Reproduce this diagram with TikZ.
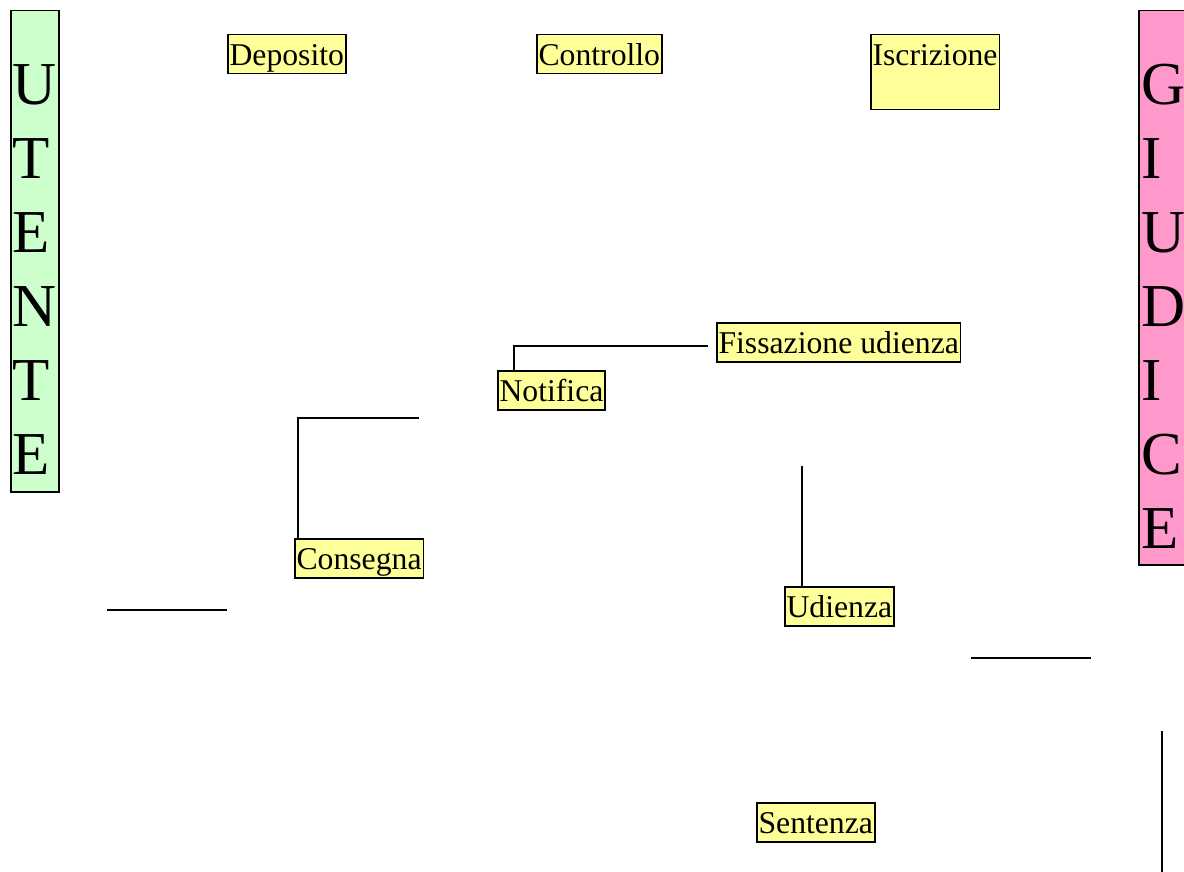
\documentclass[tikz,border=0pt]{standalone}
\usepackage{fontspec}
\setmainfont{Liberation Serif}
\definecolor{lanegreen}{HTML}{CCFFCC}
\definecolor{lanepink}{HTML}{FF99CC}
\definecolor{stepyellow}{HTML}{FFFF99}
\tikzset{
  stepbox/.style={draw=black, line width=1.5pt, fill=stepyellow, anchor=north west,
    inner xsep=1.8pt, inner ysep=0pt, text height=31pt, text depth=8pt,
    font=\fontsize{31.7}{38}\selectfont},
  lanebox/.style={draw=black, line width=1.5pt, anchor=north west, inner sep=0pt,
    minimum width=48pt},
  lanetext/.style={anchor=north west, inner sep=0pt, align=left,
    font=\fontsize{61}{74}\selectfont},
  link/.style={draw=black, line width=1.6pt}
}
\begin{document}
\begin{tikzpicture}[x=1pt, y=-1pt]
\useasboundingbox (0,0) rectangle (1184,872);

% swim lanes
\node[lanebox, fill=lanegreen, minimum height=481pt] (utente) at (10,10) {};
\node[lanetext] (utentelbl) at (12,64) {U\\T\\E\\N\\T\\E};
\node[lanebox, fill=lanepink, minimum height=554pt] (giudice) at (1138,10) {};
\node[lanetext] (giudicelbl) at (1141,64) {G\\I\\U\\D\\I\\C\\E};

% process steps
\node[stepbox] (deposito) at (227,34) {Deposito};
\node[stepbox] (controllo) at (536,34) {Controllo};
\node[stepbox, text depth=44pt] (iscrizione) at (870,34) {Iscrizione};
\node[stepbox] (fissazione) at (716,322) {Fissazione udienza};
\node[stepbox] (notifica) at (497,370) {Notifica};
\node[stepbox] (consegna) at (294,538) {Consegna};
\node[stepbox] (udienza) at (784,586) {Udienza};
\node[stepbox] (sentenza) at (756,802) {Sentenza};

% loose line ends
\coordinate (fixend) at (708,346);
\coordinate (conend) at (419,418);
\coordinate (udtop) at (802,466);
\coordinate (la) at (107,610);
\coordinate (lb) at (227,610);
\coordinate (lc) at (971,658);
\coordinate (ld) at (1091,658);
\coordinate (le) at (1162,731);
\coordinate (lf) at (1162,872);

% connectors
\draw[link] ([xshift=17pt]notifica.north west) |- (fixend);
\draw[link] ([xshift=4pt]consegna.north west) |- (conend);
\draw[link] ([xshift=18pt]udienza.north west) -- (udtop);
\draw[link] (la) -- (lb);
\draw[link] (lc) -- (ld);
\draw[link] (le) -- (lf);
\end{tikzpicture}
\end{document}
